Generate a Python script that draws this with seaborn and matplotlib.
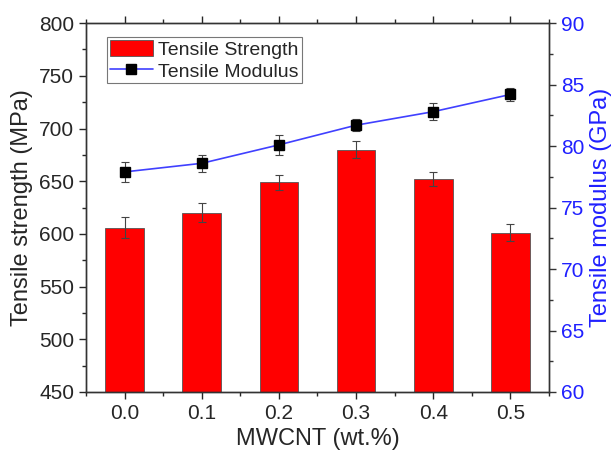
import numpy as np
import pandas as pd
import matplotlib
matplotlib.use('Agg')
import matplotlib.pyplot as plt
import seaborn as sns
from matplotlib.ticker import MultipleLocator
from matplotlib.patches import Patch
from matplotlib.lines import Line2D

# Data
mwcnt = ['0.0', '0.1', '0.2', '0.3', '0.4', '0.5']
strength = [606, 620, 649, 680, 652, 601]
strength_err = [10, 9, 7, 8, 7, 8]
modulus = [77.9, 78.6, 80.1, 81.7, 82.8, 84.2]
modulus_err = [0.8, 0.7, 0.8, 0.5, 0.7, 0.5]

sns.set_style('ticks')
plt.rcParams['font.family'] = ['Liberation Sans', 'DejaVu Sans']

df = pd.DataFrame({'MWCNT': mwcnt, 'strength': strength, 'modulus': modulus})
df['pos'] = np.arange(len(df))

fig = plt.figure(figsize=(6.12, 4.54), dpi=100)
ax = fig.add_axes([0.1405, 0.1366, 0.7565, 0.8124])

sns.barplot(data=df, x='MWCNT', y='strength', color='#ff0000', saturation=1,
            width=0.5, edgecolor='#555555', linewidth=0.6, ax=ax, zorder=2)
ax.errorbar(df['pos'], df['strength'], yerr=strength_err, fmt='none',
            ecolor='#444444', elinewidth=0.8, capsize=3, capthick=0.8, zorder=3)

ax.set_xlim(-0.5, 5.5)
ax.set_ylim(450, 800)
ax.yaxis.set_major_locator(MultipleLocator(50))
ax.yaxis.set_minor_locator(MultipleLocator(25))
ax.xaxis.set_minor_locator(MultipleLocator(0.5))
ax.set_xlabel('MWCNT (wt.%)', fontsize=17, labelpad=4)
ax.set_ylabel('Tensile strength (MPa)', fontsize=17, labelpad=4)
ax.tick_params(axis='both', which='major', labelsize=15, length=5, width=1)
ax.tick_params(axis='both', which='minor', length=3, width=1)
ax.tick_params(axis='x', top=True, which='both', direction='in')
ax.tick_params(axis='x', bottom=True, which='both', direction='out')

ax2 = ax.twinx()
sns.lineplot(data=df, x='pos', y='modulus', color='#4040ff', linewidth=1.2,
             ax=ax2, legend=False, zorder=3)
ax2.errorbar(df['pos'], df['modulus'], yerr=modulus_err, fmt='s', color='black',
             markersize=6.5, ecolor='#444444', elinewidth=0.8, capsize=3,
             capthick=0.8, zorder=4)
ax2.set_ylim(60, 90)
ax2.yaxis.set_major_locator(MultipleLocator(5))
ax2.yaxis.set_minor_locator(MultipleLocator(2.5))
ax2.set_ylabel('Tensile modulus (GPa)', fontsize=17, color='#2020ff', labelpad=4)
ax2.tick_params(axis='y', which='major', labelsize=15, length=5, width=1,
                colors='#333333')
ax2.tick_params(axis='y', which='minor', length=3, width=1, colors='#333333')
ax2.tick_params(axis='y', labelcolor='#2020ff')
ax2.set_xlim(-0.5, 5.5)

for a in (ax, ax2):
    for s in a.spines.values():
        s.set_linewidth(1.0)
        s.set_color('#333333')
        s.set_visible(True)

handles = [Patch(facecolor='#ff0000', edgecolor='#555555', linewidth=0.6),
           Line2D([0], [0], color='#4040ff', linewidth=1.2, marker='s',
                  markerfacecolor='black', markeredgecolor='black', markersize=6.5)]
leg = ax2.legend(handles, ['Tensile Strength', 'Tensile Modulus'], loc='upper left',
                 bbox_to_anchor=(0.045, 0.962), fontsize=14, frameon=True,
                 fancybox=False, edgecolor='#555555', borderpad=0.15,
                 borderaxespad=0, handlelength=2.2, handleheight=0.9,
                 handletextpad=0.3, labelspacing=0.15)
leg.get_frame().set_linewidth(0.8)

fig.savefig('out.png', dpi=100)
